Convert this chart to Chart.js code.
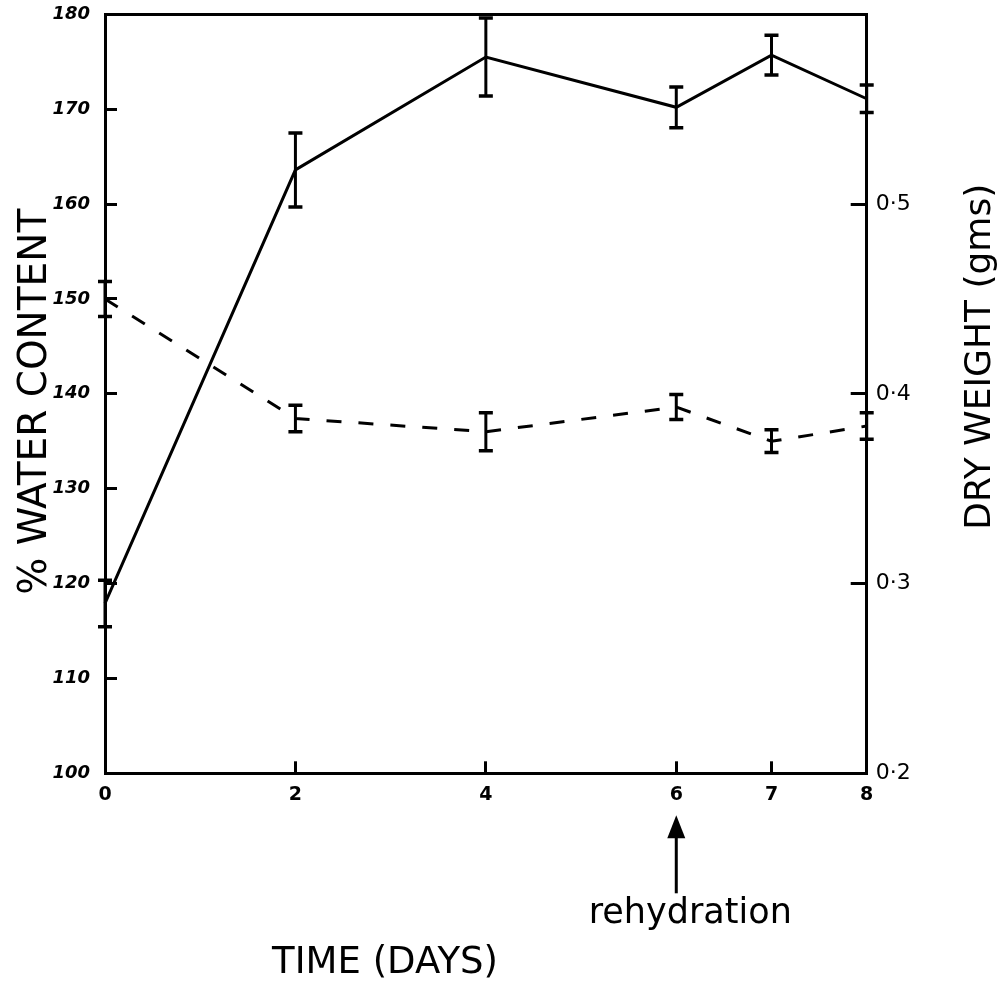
<!DOCTYPE html>
<html>
<head>
<meta charset="utf-8">
<script src="https://cdn.jsdelivr.net/npm/chart.js@4.4.1/dist/chart.umd.min.js"></script>
<style>
  html, body { margin: 0; padding: 0; background: #fff; }
  canvas { display: block; }
</style>
</head>
<body>
<canvas id="chart" width="1006" height="984"></canvas>
<script>
// Sampling days and measured means with their error half-ranges
const days = [0, 2, 4, 6, 7, 8];
const waterContent = [117.9, 163.6, 175.5, 170.2, 175.7, 171.1];
const waterContentErr = [2.45, 3.9, 4.1, 2.15, 2.1, 1.45];
const dryWeight = [0.450, 0.387, 0.380, 0.393, 0.375, 0.383];
const dryWeightErr = [0.0092, 0.007, 0.010, 0.0066, 0.006, 0.007];

// Axis ticks and labels
const dayTicks = [0, 2, 4, 6, 7, 8];
const waterTicks = [100, 110, 120, 130, 140, 150, 160, 170, 180];
const weightTicks = [0.2, 0.3, 0.4, 0.5, 0.6];
const weightTickLabels = ['0·2', '0·3', '0·4', '0·5', ''];

// Text
const xTitle = 'TIME (DAYS)';
const yTitle = '% WATER CONTENT';
const y2Title = 'DRY WEIGHT (gms)';
const noteText = 'rehydration';
const noteDay = 6;

const INK = '#000';
const FONT = "'DejaVu Sans', sans-serif";

const toPoints = (ys) => days.map((d, i) => ({ x: d, y: ys[i] }));

// Vertical error bars with end caps for every dataset carrying errorValues
const errorBars = {
  id: 'errorBars',
  afterDatasetsDraw(chart) {
    const ctx = chart.ctx;
    chart.data.datasets.forEach((ds, i) => {
      const meta = chart.getDatasetMeta(i);
      const xs = meta.xScale, ys = meta.yScale;
      ctx.save();
      ctx.strokeStyle = INK;
      ctx.lineCap = 'butt';
      ds.data.forEach((p, j) => {
        const e = ds.errorValues[j];
        const x = xs.getPixelForValue(p.x);
        const yTop = ys.getPixelForValue(p.y + e);
        const yBot = ys.getPixelForValue(p.y - e);
        ctx.lineWidth = 3;
        ctx.beginPath();
        ctx.moveTo(x, yTop); ctx.lineTo(x, yBot);
        ctx.stroke();
        ctx.lineWidth = 3.5;
        ctx.beginPath();
        ctx.moveTo(x - 7, yTop); ctx.lineTo(x + 7, yTop);
        ctx.moveTo(x - 7, yBot); ctx.lineTo(x + 7, yBot);
        ctx.stroke();
      });
      ctx.restore();
    });
  }
};

// Axis titles and the rehydration arrow
const annotations = {
  id: 'annotations',
  afterDraw(chart) {
    const { ctx, chartArea, scales } = chart;
    const midY = (chartArea.top + chartArea.bottom) / 2;
    ctx.save();
    ctx.fillStyle = INK;
    ctx.strokeStyle = INK;
    ctx.textBaseline = 'alphabetic';
    ctx.textAlign = 'center';

    // left axis title, reading upward
    ctx.save();
    ctx.font = '39px ' + FONT;
    ctx.translate(chartArea.left - 59, midY + 8);
    ctx.rotate(-Math.PI / 2);
    ctx.fillText(yTitle, 0, 0);
    ctx.restore();

    // right axis title, reading upward
    ctx.save();
    ctx.font = '36px ' + FONT;
    ctx.translate(chartArea.right + 123, midY - 37);
    ctx.rotate(-Math.PI / 2);
    ctx.fillText(y2Title, 0, 0);
    ctx.restore();

    // bottom axis title
    ctx.font = '37px ' + FONT;
    ctx.fillText(xTitle, chartArea.left + 280, chartArea.bottom + 200);

    // arrow marking the rehydration day
    const ax = scales.x.getPixelForValue(noteDay);
    const tipY = chartArea.bottom + 42;
    const baseY = chartArea.bottom + 65;
    ctx.lineWidth = 3;
    ctx.beginPath();
    ctx.moveTo(ax, baseY - 2);
    ctx.lineTo(ax, chartArea.bottom + 120);
    ctx.stroke();
    ctx.beginPath();
    ctx.moveTo(ax, tipY);
    ctx.lineTo(ax - 9, baseY);
    ctx.lineTo(ax + 9, baseY);
    ctx.closePath();
    ctx.fill();

    ctx.font = '35px ' + FONT;
    ctx.fillText(noteText, ax + 14, chartArea.bottom + 150);
    ctx.restore();
  }
};

const tickFromList = (list) => (scale) => {
  scale.ticks = list.map((v) => ({ value: v }));
};

// Fixed box size for a vertical axis, without extra room reserved for its end labels
const fixedWidth = (w) => (scale) => {
  scale.width = w;
  scale.paddingTop = 0;
  scale.paddingBottom = 0;
};

new Chart(document.getElementById('chart'), {
  type: 'line',
  data: {
    datasets: [
      {
        label: yTitle,
        data: toPoints(waterContent),
        errorValues: waterContentErr,
        yAxisID: 'y',
        borderColor: INK,
        borderWidth: 3,
        pointRadius: 0,
        tension: 0,
        fill: false,
        clip: false
      },
      {
        label: y2Title,
        data: toPoints(dryWeight),
        errorValues: dryWeightErr,
        yAxisID: 'y2',
        borderColor: INK,
        borderWidth: 3,
        borderDash: [15, 17],
        pointRadius: 0,
        tension: 0,
        fill: false,
        clip: false
      }
    ]
  },
  options: {
    responsive: false,
    animation: false,
    layout: { padding: 0, autoPadding: false },
    plugins: {
      legend: { display: false },
      tooltip: { enabled: false }
    },
    scales: {
      x: {
        type: 'linear',
        position: 'bottom',
        min: 0,
        max: 8,
        afterBuildTicks: tickFromList(dayTicks),
        afterFit: (s) => { s.height = 210.7; s.paddingLeft = 0; s.paddingRight = 0; },
        grid: { drawOnChartArea: false, drawTicks: true, tickLength: -12, tickColor: INK, tickWidth: 3 },
        border: { display: true, color: INK, width: 3 },
        ticks: {
          color: INK,
          font: { family: FONT, size: 19, weight: 'bold' },
          padding: 22,
          maxRotation: 0,
          autoSkip: false
        }
      },
      x2: {
        type: 'linear',
        position: 'top',
        min: 0,
        max: 8,
        afterFit: (s) => { s.height = 14.3; s.paddingLeft = 0; s.paddingRight = 0; },
        grid: { drawOnChartArea: false, drawTicks: false },
        border: { display: true, color: INK, width: 3 },
        ticks: { display: false }
      },
      y: {
        type: 'linear',
        position: 'left',
        min: 100,
        max: 180,
        afterBuildTicks: tickFromList(waterTicks),
        afterFit: fixedWidth(105),
        grid: { drawOnChartArea: false, drawTicks: true, tickLength: -12, tickColor: INK, tickWidth: 3 },
        border: { display: true, color: INK, width: 3 },
        ticks: {
          color: INK,
          font: { family: FONT, size: 18, weight: 'bold', style: 'italic' },
          padding: 27
        }
      },
      y2: {
        type: 'linear',
        position: 'right',
        min: 0.2,
        max: 0.6,
        afterBuildTicks: tickFromList(weightTicks),
        afterFit: fixedWidth(139.3),
        grid: { drawOnChartArea: false, drawTicks: true, tickLength: -16, tickColor: INK, tickWidth: 3 },
        border: { display: true, color: INK, width: 3 },
        ticks: {
          color: INK,
          font: { family: FONT, size: 22 },
          padding: 25,
          callback: (value, index) => weightTickLabels[index]
        }
      }
    }
  },
  plugins: [errorBars, annotations]
});
</script>
</body>
</html>
